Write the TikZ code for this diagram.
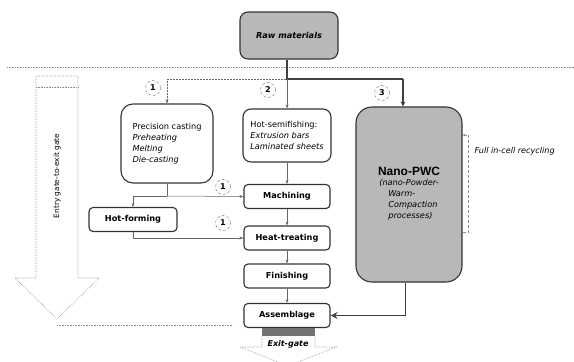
\documentclass[tikz,border=0pt]{standalone}
\usepackage{fontspec}
\setmainfont{DejaVu Sans}
\newfontfamily\nanofont{Liberation Sans}
\usetikzlibrary{arrows.meta}

\begin{document}
\begin{tikzpicture}[x=1pt,y=-1pt,font=\fontsize{8.2}{11}\selectfont,
  box/.style={draw=black!80,line width=1.1pt,rounded corners=4pt,minimum width=86pt,minimum height=24pt,inner sep=2pt,font=\fontsize{8.2}{10}\selectfont\bfseries},
  bigbox/.style={draw=black!80,line width=1.1pt,rounded corners=12pt,align=left},
  shaded/.style={fill=black!28},
  num/.style={circle,draw=black!55,densely dashed,minimum size=15pt,inner sep=0pt,font=\fontsize{8}{8}\selectfont\bfseries},
  link/.style={draw=black!60,line width=0.5pt,-{Stealth[length=4pt,width=3pt]}},
  trunk/.style={draw=black!75,line width=1.4pt},
  gate/.style={draw=black!45,densely dotted,line width=0.6pt}]
\useasboundingbox (0,0) rectangle (574,362);
\draw[gate] (7,67) -- (574,67);\draw[gate] (57,325) -- (233,325);
\draw[gate] (36,76) -- (36,278) -- (15,278) -- (57,319) -- (99,278) -- (78,278) -- (78,76) -- cycle;\draw[gate] (36,87) -- (78,87);
\node[rotate=90,font=\fontsize{7.4}{9}\selectfont] at (57,176) (entry) {Entry gate-to-exit gate};
\node[box,shaded,rounded corners=8pt,minimum width=98pt,minimum height=47pt,font=\fontsize{8.2}{10}\selectfont\bfseries\itshape] at (289,35.5) (raw) {Raw materials};
\node[bigbox,minimum width=92pt,minimum height=79pt] at (167,143.5) (prec) {Precision casting\\\textit{Preheating}\\\textit{Melting}\\\textit{Die-casting}};
\node[bigbox,rounded corners=8pt,minimum width=88pt,minimum height=53pt] at (287,135.5) (semi) {Hot-semifishing:\\\textit{Extrusion bars}\\\textit{Laminated sheets}};
\node[bigbox,shaded,rounded corners=16pt,minimum width=106pt,minimum height=175pt,align=center] at (409,194.5) (nano) {{\nanofont\fontsize{12}{14}\selectfont\bfseries Nano-PWC}\\[2pt]\begin{tabular}{@{}l@{}}\textit{(nano-Powder-}\\\hspace{9pt}\textit{Warm-}\\\hspace{9pt}\textit{Compaction}\\\hspace{9pt}\textit{processes)}\end{tabular}\hspace{6pt}};
\node[box] at (287,196.5) (mach) {Machining};\node[box,minimum width=88pt] at (133,219.5) (hotf) {Hot-forming};
\node[box] at (287,238) (heat) {Heat-treating};
\node[box] at (287,276) (fin) {Finishing};
\node[box] at (287,315.5) (asm) {Assemblage};
\node[num] at (153,88) (c1) {1};\node[num] at (268,90) (c2) {2};\node[num] at (382,93) (c3) {3};
\node[num] at (223,187) (c4) {1};\node[num] at (223,223) (c5) {1};
\coordinate (split) at (287,79);\coordinate (left) at (167,79);\coordinate (right) at (403,79);\coordinate (fork) at (167,196);
\draw[trunk] (raw.south -| split) -- (split) -- (right);
\draw[trunk,-{Stealth[length=5pt,width=5pt]}] (right) -- (right |- nano.north);
\draw[link,densely dotted] (split) -- (left) -- (left |- prec.north);
\draw[link] (split) -- (semi.north);
\draw[link,-] (prec.south) -- (fork);
\draw[link] (fork) -- (mach.west);\draw[link] (fork) -| (hotf.north);
\draw[link] (hotf.south) |- (heat.west);
\draw[link] (semi) -- (mach);\draw[link] (mach) -- (heat);\draw[link] (heat) -- (fin);\draw[link] (fin) -- (asm);
\draw[trunk,line width=1pt,-{Stealth[open,length=7pt,width=7pt]}] ([xshift=-4pt]nano.south) |- (asm.east);
\draw[gate,densely dashed,-{Stealth[length=3pt,width=3pt]}] ([yshift=-37.5pt]nano.east) -- ++(6,0) |- ([yshift=59.5pt]nano.east);
\node[anchor=west,font=\fontsize{8.1}{9}\selectfont\itshape] at (471,151) (recyc) {Full in-cell recycling};
\fill[black!55] (262,328) rectangle (315,336);
\draw[gate] (262,336) -- (262,347) -- (240,347) -- (288,366) -- (336,347) -- (315,347) -- (315,336);
\node[font=\fontsize{8}{9}\selectfont\bfseries\itshape] at (288,344) (exit) {Exit-gate};
\end{tikzpicture}
\end{document}
